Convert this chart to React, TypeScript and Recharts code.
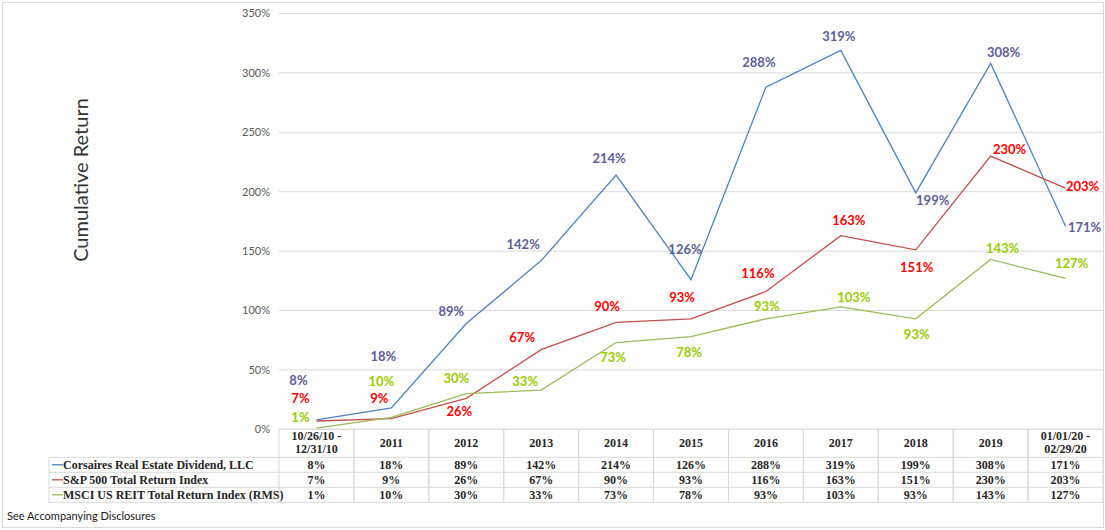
import React from 'react';
import { LineChart, Line, XAxis, YAxis, CartesianGrid, LabelList } from 'recharts';

const categories = [
  '10/26/10 -\n12/31/10', '2011', '2012', '2013', '2014', '2015', '2016', '2017', '2018', '2019', '01/01/20 -\n02/29/20',
];
const corsaires = [8, 18, 89, 142, 214, 126, 288, 319, 199, 308, 171];
const sp500 = [7, 9, 26, 67, 90, 93, 116, 163, 151, 230, 203];
const msci = [1, 10, 30, 33, 73, 78, 93, 103, 93, 143, 127];
const seriesNames = [
  'Corsaires Real Estate Dividend, LLC',
  'S&P 500 Total Return Index',
  'MSCI US REIT Total Return Index (RMS)',
];
const yTicks = [0, 50, 100, 150, 200, 250, 300, 350];

const data = categories.map((c, i) => ({ cat: c, corsaires: corsaires[i], sp500: sp500[i], msci: msci[i] }));
const seriesValues = [corsaires, sp500, msci];

// label placement offsets (relative to point)
const blueOff = [[-18, -40], [-8, -52], [-15, -13], [-18, -17], [-7, -17], [-6, -31], [-7, -25], [-2, -14], [17, 7], [13, -11], [19, 1]];
const redOff = [[-16, -23], [-12, -21], [-7, 13], [-19, -13], [-9, -16], [-9, -22], [-8, -18], [8, -16], [1, 17], [19, -7], [17, -2]];
const greenOff = [[-16, -11], [-10, -36], [-10, -16], [-16, -9], [-3, 14], [-2, 15], [1, -13], [13, -10], [1, 15], [12, -11], [6, -15]];

const lineColors = ['#4F81BD', '#C0504D', '#9BBB59'];
const labelColors = ['#5E5E98', '#FF0000', '#99CC00'];
const gridColor = '#D9D9D9';
const serif = '"Liberation Serif", "Times New Roman", serif';
const sans = 'Lato, Calibri, "Open Sans", sans-serif';

const makeLabel = (offs: number[][], color: string) => (props: any) => {
  const { x, y, value, index } = props;
  const o = offs[index] || [0, -12];
  return (
    <text
      x={x + o[0]}
      y={y + o[1]}
      textAnchor="middle"
      dominantBaseline="central"
      fill={color}
      fontFamily={sans}
      fontWeight={700}
      fontSize={13}
    >
      {`${value}%`}
    </text>
  );
};

const LEGEND_LEFT = 49;
const HDR_H = 28;
const ROW_H = 15;

const TableTick = (props: any) => {
  const { x, y, payload, index, width, visibleTicksCount } = props;
  const band = width && visibleTicksCount ? width / visibleTicksCount : 74.9;
  const left = x - band / 2;
  const right = x + band / 2;
  const top = y;
  const bottom = top + HDR_H + ROW_H * 3;
  const lines = String(payload.value).split('\n');
  const els: any[] = [];
  // header text
  if (lines.length === 1) {
    els.push(
      <text key="h" x={x} y={top + HDR_H / 2} textAnchor="middle" dominantBaseline="central" fontFamily={serif} fontWeight={700} fontSize={12} fill="#262626">
        {lines[0]}
      </text>
    );
  } else {
    lines.forEach((l, k) =>
      els.push(
        <text key={'h' + k} x={x} y={top + 7 + k * 13} textAnchor="middle" dominantBaseline="central" fontFamily={serif} fontWeight={700} fontSize={12} fill="#262626">
          {l}
        </text>
      )
    );
  }
  seriesValues.forEach((vals, r) => {
    els.push(
      <text key={'v' + r} x={x} y={top + HDR_H + ROW_H * r + ROW_H / 2 + 0.5} textAnchor="middle" dominantBaseline="central" fontFamily={serif} fontWeight={700} fontSize={12} fill="#262626">
        {`${vals[index]}%`}
      </text>
    );
  });
  // borders
  els.push(<line key="t" x1={left} x2={right} y1={top} y2={top} stroke={gridColor} />);
  for (let r = 0; r <= 3; r++) {
    const yy = top + HDR_H + ROW_H * r;
    els.push(<line key={'r' + r} x1={left} x2={right} y1={yy} y2={yy} stroke={gridColor} />);
  }
  els.push(<line key="lv" x1={left} x2={left} y1={top} y2={bottom} stroke={gridColor} />);
  els.push(<line key="rv" x1={right} x2={right} y1={top} y2={bottom} stroke={gridColor} />);
  if (index === 0) {
    for (let r = 0; r <= 3; r++) {
      const yy = top + HDR_H + ROW_H * r;
      els.push(<line key={'lr' + r} x1={LEGEND_LEFT} x2={left} y1={yy} y2={yy} stroke={gridColor} />);
    }
    els.push(<line key="llv" x1={LEGEND_LEFT} x2={LEGEND_LEFT} y1={top + HDR_H} y2={bottom} stroke={gridColor} />);
    seriesNames.forEach((n, r) => {
      const cy = top + HDR_H + ROW_H * r + ROW_H / 2;
      els.push(<line key={'sw' + r} x1={LEGEND_LEFT + 3} x2={LEGEND_LEFT + 14} y1={cy} y2={cy} stroke={lineColors[r]} strokeWidth={1.3} />);
      els.push(
        <text key={'ln' + r} x={LEGEND_LEFT + 14} y={cy + 0.5} dominantBaseline="central" fontFamily={serif} fontWeight={700} fontSize={12} fill="#262626">
          {n}
        </text>
      );
    });
  }
  return <g>{els}</g>;
};

export default function App() {
  return (
    <div style={{ position: 'absolute', left: 0, top: 0, width: 1105, height: 530, background: '#fff' }}>
      <div style={{ position: 'absolute', left: 2, top: 2, width: 1100, height: 524, border: '1px solid #D9D9D9' }} />
      <div
        style={{
          position: 'absolute', left: 80, top: 180, transform: 'translate(-50%, -50%) rotate(-90deg)',
          whiteSpace: 'nowrap', fontFamily: sans, fontSize: 20, color: '#333333',
        }}
      >
        Cumulative Return
      </div>
      <div style={{ position: 'absolute', left: 7, top: 509, fontFamily: sans, fontSize: 11, color: '#1a1a1a', whiteSpace: 'nowrap' }}>
        See Accompanying Disclosures
      </div>
      <div style={{ position: 'absolute', left: 0, top: 0 }}>
        <LineChart width={1105} height={530} data={data} margin={{ top: 13.5, right: 2, bottom: 0, left: 0 }}>
          <CartesianGrid vertical={false} stroke={gridColor} />
          <XAxis
            dataKey="cat"
            scale="band"
            axisLine={false}
            tickLine={false}
            tickSize={0}
            tickMargin={0}
            height={100.7}
            interval={0}
            tick={<TableTick />}
          />
          <YAxis
            width={279}
            domain={[0, 350]}
            ticks={yTicks}
            tickFormatter={(v: number) => `${v}%`}
            axisLine={false}
            tickLine={false}
            tickMargin={3}
            tick={{ fill: '#595959', fontSize: 11, fontFamily: sans }}
          />
          <Line dataKey="corsaires" stroke={lineColors[0]} strokeWidth={1.3} dot={false} activeDot={false} isAnimationActive={false}>
            <LabelList dataKey="corsaires" content={makeLabel(blueOff, labelColors[0])} />
          </Line>
          <Line dataKey="sp500" stroke={lineColors[1]} strokeWidth={1.3} dot={false} activeDot={false} isAnimationActive={false}>
            <LabelList dataKey="sp500" content={makeLabel(redOff, labelColors[1])} />
          </Line>
          <Line dataKey="msci" stroke={lineColors[2]} strokeWidth={1.3} dot={false} activeDot={false} isAnimationActive={false}>
            <LabelList dataKey="msci" content={makeLabel(greenOff, labelColors[2])} />
          </Line>
        </LineChart>
      </div>
    </div>
  );
}
